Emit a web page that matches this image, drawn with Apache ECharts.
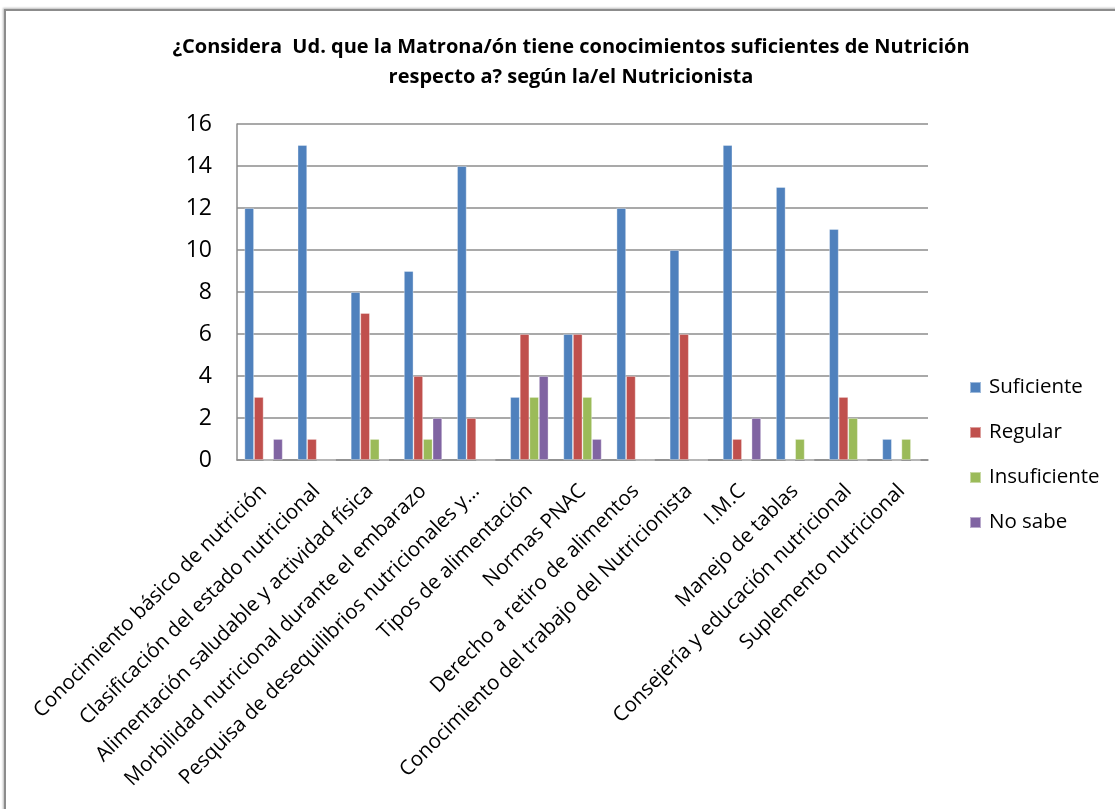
<!DOCTYPE html>
<html>
<head>
<meta charset="utf-8">
<script src="https://cdn.jsdelivr.net/npm/echarts@6/dist/echarts.min.js"></script>
<style>
html,body{margin:0;padding:0;background:#fff;}
#frame{position:absolute;left:4px;top:9px;width:1200px;height:900px;border-left:2px solid #8c8c8c;border-top:2px solid #8c8c8c;box-shadow:-1px -1px 2px #bbb;}
#chart{position:absolute;left:0;top:0;width:1115px;height:809px;}
</style>
</head>
<body>
<div id="frame"></div>
<div id="chart"></div>
<script>
const titleText = '¿Considera  Ud. que la Matrona/ón tiene conocimientos suficientes de Nutrición\nrespecto a? según la/el Nutricionista';
const categories = [
  'Conocimiento básico de nutrición',
  'Clasificación del estado nutricional',
  'Alimentación saludable y actividad física',
  'Morbilidad nutricional durante el embarazo',
  'Pesquisa de desequilibrios nutricionales y...',
  'Tipos de alimentación',
  'Normas PNAC',
  'Derecho a retiro de alimentos',
  'Conocimiento del trabajo del Nutricionista',
  'I.M.C',
  'Manejo de tablas',
  'Consejería y educación nutricional',
  'Suplemento nutricional'
];
const seriesNames = ['Suficiente', 'Regular', 'Insuficiente', 'No sabe'];
const suficiente   = [12, 15, 8, 9, 14, 3, 6, 12, 10, 15, 13, 11, 1];
const regular      = [3, 1, 7, 4, 2, 6, 6, 4, 6, 1, 0, 3, 0];
const insuficiente = [0, 0, 1, 1, 0, 3, 3, 0, 0, 0, 1, 2, 1];
const noSabe       = [1, 0, 0, 2, 0, 4, 1, 0, 0, 2, 0, 0, 0];
const colors = ['#4F81BD', '#C0504D', '#9BBB59', '#8064A2'];
const values = [suficiente, regular, insuficiente, noSabe];

const chart = echarts.init(document.getElementById('chart'));
chart.setOption({
  animation: false,
  color: colors,
  title: {
    text: titleText,
    left: 566, top: 27, textAlign: 'center',
    textStyle: {fontFamily: 'Open Sans', fontWeight: 'bold', fontSize: 20, lineHeight: 30, color: '#000'}
  },
  legend: {
    orient: 'vertical', left: 964, top: 372, itemGap: 24,
    itemWidth: 11, itemHeight: 11, icon: 'rect',
    textStyle: {fontFamily: 'Open Sans', fontSize: 20.5, color: '#000', padding: [0, 0, 0, 3]},
    data: seriesNames
  },
  grid: {left: 237, right: 187, top: 124, bottom: 349, containLabel: false},
  xAxis: {
    type: 'category', data: categories,
    axisLine: {show: true, lineStyle: {color: '#8c8c8c', width: 1.5}},
    axisTick: {show: false},
    axisLabel: {rotate: 45, interval: 0, margin: 28, fontFamily: 'Open Sans', fontSize: 20.5, color: '#000'}
  },
  yAxis: {
    type: 'value', min: 0, max: 16, interval: 2,
    axisLine: {show: true, lineStyle: {color: '#8c8c8c', width: 1.5}},
    axisTick: {show: false},
    splitLine: {lineStyle: {color: '#8c8c8c', width: 1.5}},
    axisLabel: {margin: 25, fontFamily: 'Open Sans', fontSize: 23, color: '#000'}
  },
  series: seriesNames.map((n, i) => ({
    name: n, type: 'bar', data: values[i],
    barGap: '0%', barCategoryGap: '28%',
    itemStyle: {color: colors[i], borderColor: 'rgba(255,255,255,0.45)', borderWidth: 0.8}
  }))
});
</script>
</body>
</html>
